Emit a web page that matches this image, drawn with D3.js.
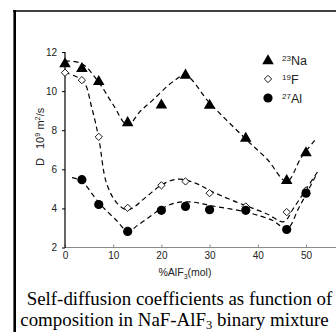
<!DOCTYPE html>
<html>
<head>
<meta charset="utf-8">
<script src="https://cdn.jsdelivr.net/npm/d3@7"></script>
<style>
  html, body { margin: 0; padding: 0; background: #fff; }
  svg { display: block; }
</style>
</head>
<body>
<svg id="chart" width="336" height="332"></svg>
<script>
// Composition, mol % AlF3
const composition = [0, 3.5, 7, 13, 20, 25, 30, 37.5, 46, 50];

// Self-diffusion coefficients, 10^9 m^2/s
const naValues = [11.44, 11.2, 10.53, 8.43, 9.33, 10.86, 9.32, 7.63, 5.47, 6.89];
const fValues  = [10.94, 10.56, 7.66, 4.03, 5.18, 5.38, 4.78, 4.10, 3.81, 4.92];
const alValues = [null, 5.47, 4.2, 2.82, 3.9, 4.1, 3.93, 3.9, 2.92, 4.78];

// Guide-line knots for each nucleus: [composition, D]
const naFit = [[0, 11.55], [3.5, 11.4], [7, 10.45], [10, 9.3], [13, 8.25], [15.5, 8.94],
  [18.2, 9.54], [22.4, 10.48], [25, 10.8], [30, 9.4], [37.5, 7.55], [42, 6.5],
  [46, 5.38], [49, 6.6], [52.2, 7.6]];
const fFit = [[0, 10.95], [3.8, 10.5], [5.5, 9.2], [7, 7.6], [8.6, 5.3], [10.7, 4.3],
  [13, 3.92], [16.9, 4.6], [20, 5.2], [23.5, 5.5], [27.3, 5.27], [30, 4.92],
  [34.8, 4.4], [41.8, 3.73], [45.4, 3.32], [47.3, 3.97], [49.8, 4.9], [52.6, 5.95]];
const alFit = [[1.45, 5.57], [3.4, 5.4], [7.2, 4.24], [10.7, 3.38], [13, 2.85],
  [15.5, 3.21], [20, 3.98], [23.1, 4.29], [26.6, 4.32], [30, 4.15], [37.6, 3.81],
  [43.1, 3.38], [46, 2.95], [48.6, 4.07], [52.1, 5.7]];

const xTicks = [0, 10, 20, 30, 40, 50];
const yTicks = [2, 4, 6, 8, 10, 12];

const svg = d3.select("#chart");
const sans = "'Liberation Sans', Arial, sans-serif";

const x = d3.scaleLinear().domain([0, 50]).range([65, 306]);
const y = d3.scaleLinear().domain([2, 12]).range([247.5, 52]);

// frame
svg.append("line").attr("x1", 13).attr("x2", 336).attr("y1", 11).attr("y2", 11)
  .attr("stroke", "#000").attr("stroke-width", 1.6);
svg.append("line").attr("x1", 14.7).attr("x2", 14.7).attr("y1", 10).attr("y2", 332)
  .attr("stroke", "#000").attr("stroke-width", 2.6);

// x axis
const xAxis = svg.append("g").attr("transform", `translate(0,${y(2)})`)
  .call(d3.axisBottom(x).tickValues(xTicks).tickSize(-3).tickFormat(d3.format("d")));
xAxis.select(".domain").remove();
xAxis.append("line").attr("x1", x(0)).attr("x2", 336).attr("stroke", "#8a8a8a").attr("stroke-width", 1.2);
xAxis.selectAll(".tick line").attr("stroke", "#8a8a8a");
xAxis.selectAll(".tick text").attr("y", 4).attr("dy", "0.71em")
  .attr("font-family", sans).attr("font-size", 10).attr("fill", "#222");

// y axis
const yAxis = svg.append("g").attr("transform", `translate(${x(0)},0)`)
  .call(d3.axisLeft(y).tickValues(yTicks).tickSize(3).tickFormat(d3.format("d")));
yAxis.select(".domain").attr("d", `M0,${y(12)}V${y(2) + 0.5}`).attr("stroke", "#000").attr("stroke-width", 1.2);
yAxis.selectAll(".tick line").attr("stroke", "#000");
yAxis.selectAll(".tick text").attr("x", -8)
  .attr("font-family", sans).attr("font-size", 10).attr("fill", "#222");

// axis titles
const xt = svg.append("text").attr("x", 185).attr("y", 276).attr("text-anchor", "middle")
  .attr("font-family", sans).attr("font-size", 10.5).attr("fill", "#222");
xt.append("tspan").text("%AlF");
xt.append("tspan").attr("font-size", 7).attr("dy", 2.5).text("3");
xt.append("tspan").attr("dy", -2.5).text("(mol)");

const yt = svg.append("text").attr("transform", "translate(44,166) rotate(-90)")
  .attr("font-family", sans).attr("font-size", 11).attr("fill", "#222");
yt.append("tspan").text("D");
yt.append("tspan").attr("dx", 9).text("10");
yt.append("tspan").attr("font-size", 7.5).attr("dy", -4).text("9");
yt.append("tspan").attr("dy", 4).text(" m");
yt.append("tspan").attr("font-size", 7.5).attr("dy", -4).text("2");
yt.append("tspan").attr("dy", 4).text("/s");

// dashed guide lines
const line = d3.line().x(d => x(d[0])).y(d => y(d[1])).curve(d3.curveCatmullRom.alpha(0.5));
[naFit, fFit, alFit].forEach(pts => {
  svg.append("path").attr("d", line(pts)).attr("fill", "none")
    .attr("stroke", "#000").attr("stroke-width", 1.2).attr("stroke-dasharray", "5,3.5");
});

// markers
const tri = d3.symbol().type(d3.symbolTriangle).size(58);
const dia = d3.symbol().type(d3.symbolDiamond2).size(34);

svg.append("g").selectAll("path").data(composition.map((c, i) => [c, naValues[i]]))
  .join("path").attr("d", tri).attr("fill", "#000")
  .attr("transform", d => `translate(${x(d[0])},${y(d[1]) + 1})`);

svg.append("g").selectAll("path").data(composition.map((c, i) => [c, fValues[i]]))
  .join("path").attr("d", dia).attr("fill", "#fff").attr("stroke", "#000").attr("stroke-width", 0.9)
  .attr("transform", d => `translate(${x(d[0])},${y(d[1])})`);

svg.append("g").selectAll("circle")
  .data(composition.map((c, i) => [c, alValues[i]]).filter(d => d[1] !== null))
  .join("circle").attr("r", 4.6).attr("fill", "#000")
  .attr("cx", d => x(d[0])).attr("cy", d => y(d[1]));

// legend
const legendItems = [
  { mass: "23", el: "Na", shape: "tri" },
  { mass: "19", el: "F", shape: "dia" },
  { mass: "27", el: "Al", shape: "circ" }
];
legendItems.forEach((d, i) => {
  const cy = 60 + i * 19;
  if (d.shape === "tri") {
    svg.append("path").attr("d", tri).attr("fill", "#000").attr("transform", `translate(268,${cy + 1})`);
  } else if (d.shape === "dia") {
    svg.append("path").attr("d", dia).attr("fill", "#fff").attr("stroke", "#000").attr("stroke-width", 0.9)
      .attr("transform", `translate(268,${cy})`);
  } else {
    svg.append("circle").attr("cx", 268).attr("cy", cy).attr("r", 4.6).attr("fill", "#000");
  }
  const t = svg.append("text").attr("x", 282).attr("y", cy + 5)
    .attr("font-family", sans).attr("font-size", 12.5).attr("fill", "#222");
  t.append("tspan").attr("font-size", 8).attr("dy", -4).text(d.mass);
  t.append("tspan").attr("dy", 4).text(d.el);
});

// caption
const serif = "'Liberation Serif', 'Times New Roman', serif";
svg.append("text").attr("x", 179.5).attr("y", 305).attr("text-anchor", "middle")
  .attr("font-family", serif).attr("font-size", 18.9).attr("fill", "#000")
  .text("Self-diffusion coefficients as function of");
const c2 = svg.append("text").attr("x", 174.5).attr("y", 326).attr("text-anchor", "middle")
  .attr("font-family", serif).attr("font-size", 18.9).attr("fill", "#000");
c2.append("tspan").text("composition in NaF-AlF");
c2.append("tspan").attr("font-size", 12.5).attr("dy", 3).text("3");
c2.append("tspan").attr("dy", -3).text(" binary mixture");
</script>
</body>
</html>
